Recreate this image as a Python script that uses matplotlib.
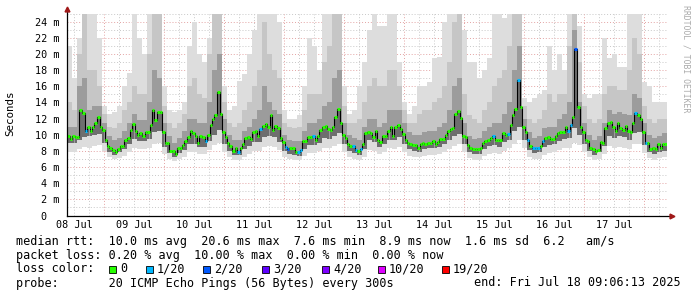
import datetime as dt
import matplotlib
matplotlib.use('Agg')  # no display
import matplotlib.pyplot as plt
import matplotlib.dates as mdates
from matplotlib.patches import Rectangle

# --- data ---
END = dt.datetime(2025, 7, 18, 9, 6, 13)
START = END - dt.timedelta(days=10)

# hourly median rtt in ms (240 points)
median_ms = [
    9.9, 9.5, 9.8, 9.7, 9.7, 13.0, 12.7, 10.5, 10.9, 10.5,
    10.9, 11.4, 12.2, 10.9, 10.6, 9.3, 8.6, 8.3, 8.1, 7.9,
    8.2, 8.6, 8.6, 9.4, 9.6, 10.6, 11.3, 10.5, 10.0, 10.2,
    9.8, 10.3, 10.3, 11.2, 13.0, 11.8, 12.8, 12.8, 10.3, 9.0,
    9.0, 8.0, 8.0, 7.6, 8.3, 8.3, 8.7, 9.2, 9.7, 10.5,
    10.2, 9.8, 9.0, 9.8, 9.7, 9.2, 10.0, 11.2, 12.0, 12.5,
    15.3, 12.6, 10.3, 9.7, 9.0, 8.6, 8.0, 8.3, 7.8, 8.4,
    8.9, 9.6, 9.7, 9.5, 10.3, 10.5, 9.8, 10.7, 11.1, 11.3,
    10.9, 12.4, 10.6, 11.1, 10.8, 9.6, 9.1, 8.5, 8.2, 8.3,
    8.3, 7.9, 7.9, 8.1, 9.2, 9.2, 9.7, 9.7, 9.8, 9.4,
    9.8, 10.6, 10.9, 11.1, 10.7, 10.6, 11.0, 12.2, 13.2, 11.5,
    10.0, 9.6, 8.8, 8.6, 8.6, 8.1, 8.0, 8.2, 8.8, 10.2,
    10.3, 10.2, 9.7, 10.5, 9.3, 9.1, 9.8, 9.9, 10.5, 11.0,
    9.9, 10.9, 11.2, 10.7, 10.1, 9.3, 9.0, 8.8, 8.7, 8.7,
    8.3, 8.9, 9.0, 8.9, 9.0, 9.0, 9.2, 8.8, 9.1, 9.5,
    9.5, 10.0, 10.5, 10.7, 10.8, 12.6, 12.9, 12.1, 9.8, 9.7,
    8.7, 8.3, 8.2, 8.2, 8.2, 8.3, 9.0, 9.2, 9.4, 9.6,
    9.9, 9.3, 9.3, 9.3, 10.2, 10.0, 10.1, 11.2, 12.5, 13.2,
    16.8, 13.4, 10.9, 10.3, 9.3, 8.6, 8.3, 8.3, 8.3, 8.6,
    9.2, 9.6, 9.7, 9.5, 9.5, 9.9, 10.2, 10.3, 10.3, 10.9,
    10.5, 11.2, 12.2, 20.6, 13.4, 10.9, 10.3, 9.4, 9.2, 8.4,
    8.2, 8.0, 8.1, 9.1, 9.0, 10.8, 11.4, 11.6, 11.0, 10.5,
    11.5, 10.8, 10.6, 11.1, 10.5, 10.3, 11.4, 12.7, 12.5, 11.9,
    10.3, 9.0, 9.0, 8.2, 8.3, 8.2, 8.8, 8.4, 8.8, 8.9,
]

# hours with lost pings (index into median_ms) and how many of 20 were lost
loss_hours = [7, 55, 68, 77, 87, 88, 92, 93, 98, 114, 115, 117, 170, 176,
              180, 184, 186, 187, 188, 190, 200, 201, 203, 227, 231]
loss_counts = [1, 1, 1, 1, 1, 2, 1, 1, 1, 1, 1, 1, 1, 1,
               1, 1, 1, 1, 1, 1, 1, 1, 2, 1, 1]

# smoke, per 2 hour slot (120 slots), in ms
smoke_min = [
    7.9, 7.9, 8.2, 8.5, 8.4, 8.6, 8.7, 8.0, 7.3, 7.0,
    7.1, 7.4, 7.9, 8.3, 8.2, 8.2, 8.4, 8.9, 9.0, 7.6,
    7.0, 6.8, 7.0, 7.3, 7.8, 7.9, 7.6, 7.6, 8.1, 8.7,
    9.0, 7.9, 7.3, 6.9, 6.9, 7.3, 7.6, 8.0, 8.0, 8.5,
    8.6, 8.5, 8.1, 7.3, 7.0, 6.9, 6.9, 7.4, 7.7, 7.7,
    8.0, 8.4, 8.3, 8.6, 8.8, 7.8, 7.2, 7.0, 6.9, 7.3,
    8.1, 8.0, 7.6, 7.9, 8.3, 8.2, 8.5, 7.8, 7.4, 7.3,
    7.2, 7.4, 7.5, 7.5, 7.6, 7.8, 8.2, 8.6, 8.8, 7.8,
    7.1, 6.9, 6.9, 7.4, 7.6, 7.7, 7.6, 8.0, 8.3, 8.9,
    9.3, 8.3, 7.3, 7.0, 7.0, 7.5, 7.7, 7.8, 8.1, 8.3,
    8.4, 9.0, 8.7, 7.8, 7.2, 6.9, 7.0, 7.6, 8.6, 8.4,
    8.5, 8.4, 8.2, 8.8, 8.8, 7.7, 7.1, 6.9, 7.1, 7.3,
]
smoke_low = [
    9.0, 9.0, 9.3, 9.7, 9.8, 10.0, 10.1, 9.0, 7.9, 7.5,
    7.8, 8.2, 8.9, 9.5, 9.2, 9.2, 9.5, 10.3, 10.4, 8.5,
    7.7, 7.3, 7.7, 8.1, 8.8, 8.9, 8.5, 8.5, 9.2, 10.0,
    10.6, 8.8, 8.0, 7.5, 7.5, 8.2, 8.6, 9.1, 9.1, 9.7,
    9.8, 9.7, 9.1, 8.0, 7.6, 7.5, 7.4, 8.2, 8.7, 8.7,
    9.0, 9.6, 9.5, 9.9, 10.2, 8.8, 8.0, 7.7, 7.5, 8.2,
    9.3, 9.1, 8.5, 8.9, 9.4, 9.3, 9.7, 8.8, 8.2, 8.0,
    7.9, 8.2, 8.3, 8.3, 8.5, 8.8, 9.4, 9.9, 10.1, 8.8,
    7.8, 7.6, 7.6, 8.2, 8.6, 8.7, 8.5, 9.1, 9.4, 10.4,
    11.0, 9.4, 8.1, 7.7, 7.8, 8.5, 8.7, 8.8, 9.2, 9.5,
    9.6, 10.8, 10.0, 8.8, 8.0, 7.5, 7.8, 8.6, 9.9, 9.6,
    9.8, 9.7, 9.4, 10.2, 10.3, 8.7, 7.8, 7.6, 7.8, 8.0,
]
smoke_dark = [
    11.0, 11.0, 16, 17, 13, 13.5, 13.5, 11.5, 9.8, 9.3,
    9.6, 10.5, 11.5, 12.5, 11.8, 11.8, 14, 18, 17, 11.5,
    9.8, 9.0, 9.6, 10.5, 12, 12, 11.5, 11.5, 14, 18,
    20, 12, 10, 9.4, 9.3, 10.5, 11, 12, 13, 16,
    14, 13, 12.5, 10, 9.4, 9.2, 9.2, 10.5, 11.5, 11.5,
    12, 13.5, 14, 17, 18, 11.5, 10, 9.6, 9.4, 11,
    12, 12, 11, 11.5, 13, 13, 13, 11.5, 10.3, 10,
    10, 10.3, 10.5, 10.5, 11, 11.5, 13, 16, 17, 11.5,
    9.8, 9.5, 9.6, 10.5, 11, 11.5, 11.5, 12.5, 14, 18,
    21, 12, 10.3, 9.6, 9.8, 10.8, 11, 11, 12, 12.5,
    14, 23, 14, 11.5, 10, 9.4, 9.9, 11.5, 13, 12.5,
    12.8, 12.5, 12.5, 15, 14.5, 11.5, 10, 9.6, 9.9, 10.2,
]
smoke_mid = [
    14, 13, 20, 25, 18, 18, 16, 12.5, 11, 10.8,
    11.5, 13, 14, 16, 15, 15, 20, 25, 25, 13.5,
    11.5, 10.8, 11.5, 12.5, 16, 17, 15, 14.5, 20, 25,
    25, 14, 11.5, 11, 11.5, 13, 14, 16, 18, 24,
    20, 18, 17, 11.5, 11, 10.8, 11, 13, 15, 15,
    15, 19, 21, 25, 25, 13.5, 11.5, 11.5, 12, 14,
    16, 17, 16, 16, 18, 18, 16, 13, 11.5, 11.5,
    12.5, 13, 13, 14, 14.5, 16, 19, 24, 25, 15,
    12.5, 12, 11.5, 13, 14, 16, 17, 18, 21, 25,
    25, 13.5, 12, 11.5, 12, 13, 15, 14, 15, 15,
    21, 25, 19, 13.5, 12, 11.5, 12, 15, 16, 16,
    15.5, 15.5, 18, 22, 20, 13.5, 12, 11.5, 12, 12,
]
smoke_max = [
    21, 17, 22, 25, 25, 25, 22, 13.5, 12.5, 12.8,
    13.5, 16, 17.6, 25, 22, 20, 25, 25, 25, 16,
    13, 12.8, 13, 14, 21, 24, 20, 19, 22, 25,
    25, 16, 13, 13.5, 16.6, 17.5, 20, 23, 25, 25,
    25, 25, 24, 13, 12, 12, 12.5, 16, 22, 21,
    18, 25, 25, 25, 25, 16, 12.5, 13, 16, 19,
    23, 25, 23.5, 23.5, 25, 25, 19, 14, 12.5, 13.5,
    16, 16, 16.5, 19.5, 19.6, 24, 25, 25, 25, 23,
    19, 19, 17, 18, 19.5, 25, 25, 24.5, 25, 25,
    25, 14.5, 14, 14.5, 15, 15.5, 21, 18, 20, 18,
    25, 25, 23.5, 15, 14.5, 15, 15, 22, 19.5, 20,
    18.4, 18.4, 25, 25, 25, 16.5, 16, 14, 14, 14,
]

loss_labels = ['0', '1/20', '2/20', '3/20', '4/20', '10/20', '19/20']
loss_colors = ['#26ff00', '#00b8ff', '#0059ff', '#5e00ff', '#7e00ff', '#dd00ff', '#ff0000']
y_ticks = [0, 2, 4, 6, 8, 10, 12, 14, 16, 18, 20, 22, 24]

MONO = 'DejaVu Sans Mono'
W, H = 697, 297


def px_x(x):
    return x / W


def px_y(y):
    return 1 - y / H


fig = plt.figure(figsize=(W / 100, H / 100), dpi=100, facecolor='white')
ax = fig.add_axes([px_x(67), px_y(215.5), 600 / W, 202 / H])
ax.set_facecolor('white')

t0 = mdates.date2num(START)
t1 = mdates.date2num(END)
hour = 1 / 24.0
ax.set_xlim(t0, t1)
ax.set_ylim(0, 25)

# grid: red dotted every 2 ms / each midnight, grey dotted in between
dots = (0, (1, 2))
for v in range(1, 26):
    col = '#e3a3a3' if v % 2 == 0 else '#c8c8c8'
    ax.axhline(v, color=col, lw=0.7, ls=dots, zorder=1)
day = dt.datetime(2025, 7, 8, 12, 0)
while day < END:
    x = mdates.date2num(day)
    if x > t0:
        col = '#e3a3a3' if day.hour == 0 else '#c8c8c8'
        ax.axvline(x, color=col, lw=0.7, ls=dots, zorder=1)
    day += dt.timedelta(hours=6)

# smoke: light outer band, then darker bands towards the median
slot_x = [t0 + 2 * i * hour for i in range(len(smoke_max))]
bands = [
    (smoke_min, smoke_max, '#dddddd'),
    (smoke_low, smoke_mid, '#c6c6c6'),
    (smoke_low, smoke_dark, '#9c9c9c'),
]
for lo, hi, col in bands:
    ax.bar(slot_x, [h - l for l, h in zip(lo, hi)], bottom=lo, width=2 * hour,
           align='edge', color=col, linewidth=0, zorder=2)

# dark core just under the median
edges = [t0 + k * hour for k in range(len(median_ms) + 1)]
core_lo = [smoke_low[k // 2] for k in range(len(median_ms))]
ax.bar(edges[:-1], [m - l for m, l in zip(median_ms, core_lo)], bottom=core_lo,
       width=hour, align='edge', color='#6e6e6e', linewidth=0, zorder=2)

# median line and loss colour marks
ax.step(edges, median_ms + [median_ms[-1]], where='post', color='black',
        lw=0.8, zorder=3)
mark_cols = [loss_colors[0]] * len(median_ms)
for k, n in zip(loss_hours, loss_counts):
    mark_cols[k] = loss_colors[n]
ax.hlines(median_ms, edges[:-1], edges[1:], colors=mark_cols, lw=2.2, zorder=4)

# axes
for s in ax.spines.values():
    s.set_visible(False)
ax.plot([0, 1.005], [0, 0], transform=ax.transAxes, color='black', lw=0.9,
        clip_on=False, zorder=5)
ax.plot([0, 0], [0, 1.02], transform=ax.transAxes, color='black', lw=0.9,
        clip_on=False, zorder=5)
ax.plot([1.008], [0], marker='>', ms=3.5, color='#a01818', transform=ax.transAxes,
        clip_on=False, zorder=6)
ax.plot([0], [1.022], marker='^', ms=3.5, color='#a01818', transform=ax.transAxes,
        clip_on=False, zorder=6)

ax.set_yticks(y_ticks)
ax.set_yticklabels(['0  '] + ['%d m' % v for v in y_ticks[1:]])
noon = [mdates.date2num(dt.datetime(2025, 7, d, 12)) for d in range(8, 18)]
ax.set_xticks(noon)
ax.set_xticklabels(['%02d Jul' % d for d in range(8, 18)])
ax.tick_params(axis='y', length=0, pad=5.5, labelsize=7.3)
ax.tick_params(axis='x', length=0, pad=3.5, labelsize=7.3)
for lab in ax.get_xticklabels() + ax.get_yticklabels():
    lab.set_family(MONO)

fig.text(px_x(10), px_y(113), 'Seconds', rotation=90, ha='center', va='center',
         family=MONO, fontsize=7.8)
fig.text(px_x(686), px_y(5), 'RRDTOOL / TOBI OETIKER', rotation=270,
         ha='center', va='top', family=MONO, fontsize=5.9, color='#aaaaaa')

# legend block
fs = 8.5
fig.text(px_x(16), px_y(241),
         'median rtt:  10.0 ms avg  20.6 ms max  7.6 ms min  8.9 ms now  1.6 ms sd  6.2   am/s',
         family=MONO, fontsize=fs, va='center')
fig.text(px_x(16), px_y(255),
         'packet loss: 0.20 % avg  10.00 % max  0.00 % min  0.00 % now',
         family=MONO, fontsize=fs, va='center')
fig.text(px_x(16), px_y(269), 'loss color:', family=MONO, fontsize=fs, va='center')
sq_x = [109, 146, 203, 262, 322, 378, 442]
for xs, lab, col in zip(sq_x, loss_labels, loss_colors):
    fig.patches.append(Rectangle((px_x(xs), px_y(272.5)), 7 / W, 7 / H,
                                 transform=fig.transFigure, facecolor=col,
                                 edgecolor='black', lw=0.6))
    fig.text(px_x(xs + 11), px_y(269), lab, family=MONO, fontsize=fs, va='center')
fig.text(px_x(16), px_y(283),
         'probe:       20 ICMP Echo Pings (56 Bytes) every 300s',
         family=MONO, fontsize=fs, va='center')
fig.text(px_x(681), px_y(283), 'end: Fri Jul 18 09:06:13 2025',
         family=MONO, fontsize=fs, va='center', ha='right')

fig.savefig('out.png', dpi=100, facecolor='white')
